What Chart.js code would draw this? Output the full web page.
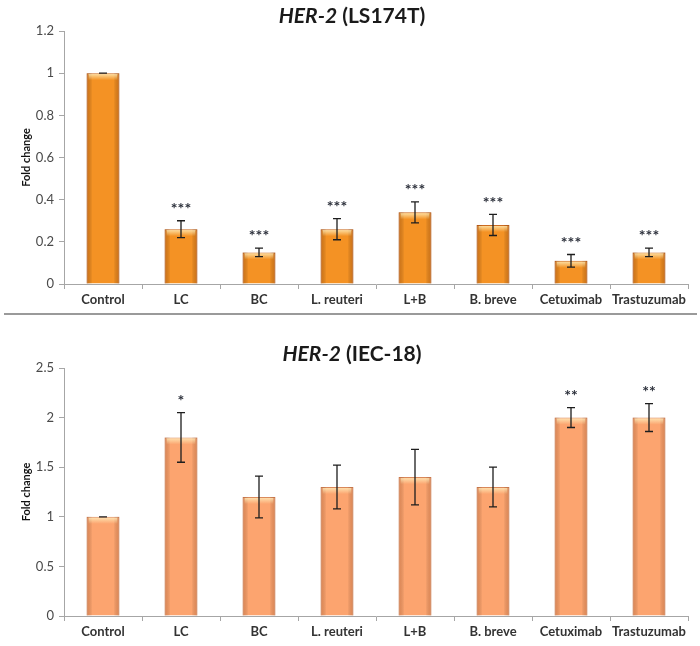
<!DOCTYPE html>
<html>
<head>
<meta charset="utf-8">
<script src="https://cdn.jsdelivr.net/npm/chart.js@4.4.1/dist/chart.umd.min.js"></script>
<style>
  body { margin: 0; background: #fff; }
  .box { position: absolute; left: 0; width: 700px; }
  #top { top: 0; height: 314px; }
  #sep { position: absolute; left: 4px; width: 693px; top: 313px; height: 2px; background: #9a9a9a; }
  #bottom { top: 316px; height: 330px; }
</style>
</head>
<body>
<div class="box" id="top"><canvas id="chartLS"></canvas></div>
<div id="sep"></div>
<div class="box" id="bottom"><canvas id="chartIEC"></canvas></div>
<script>
// categories shared by both panels
var categories = ['Control', 'LC', 'BC', 'L. reuteri', 'L+B', 'B. breve', 'Cetuximab', 'Trastuzumab'];

// HER-2 in LS174T cells
var lsMeans = [1.0, 0.26, 0.15, 0.26, 0.34, 0.28, 0.11, 0.15];
var lsErrors = [0.0, 0.04, 0.02, 0.05, 0.05, 0.05, 0.03, 0.02];
var lsStars = ['', '***', '***', '***', '***', '***', '***', '***'];

// HER-2 in IEC-18 cells
var iecMeans = [1.0, 1.8, 1.2, 1.3, 1.4, 1.3, 2.0, 2.0];
var iecErrors = [0.0, 0.25, 0.21, 0.22, 0.28, 0.2, 0.1, 0.14];
var iecStars = ['', '*', '', '', '', '', '**', '**'];

var FONT = "Lato, 'Liberation Sans', sans-serif";

// draws the error bars, significance stars, bar shading and mixed-style title
var extrasPlugin = {
    id: 'extras',
    afterDatasetsDraw: function (chart, args, opts) {
        var ctx = chart.ctx;
        var meta = chart.getDatasetMeta(0);
        var yScale = chart.scales.y;

        // shading on the bars (darker edges, light band on top)
        meta.data.forEach(function (bar) {
            var left = bar.x - bar.width / 2;
            var right = bar.x + bar.width / 2;
            var g = ctx.createLinearGradient(left, 0, right, 0);
            g.addColorStop(0, opts.edge);
            g.addColorStop(0.18, 'rgba(0,0,0,0)');
            g.addColorStop(0.82, 'rgba(0,0,0,0)');
            g.addColorStop(1, opts.edge);
            ctx.save();
            ctx.fillStyle = g;
            ctx.fillRect(left, bar.y, bar.width, bar.base - bar.y);
            var h = ctx.createLinearGradient(0, bar.y, 0, bar.y + 7);
            h.addColorStop(0, 'rgba(255,240,190,0.9)');
            h.addColorStop(1, 'rgba(255,240,190,0)');
            ctx.fillStyle = h;
            ctx.fillRect(left + 2, bar.y + 1, bar.width - 4, 7);
            ctx.restore();
        });

        // error bars
        ctx.save();
        ctx.strokeStyle = '#1e1e1e';
        ctx.lineWidth = 1.3;
        meta.data.forEach(function (bar, i) {
            var m = opts.means[i], e = opts.errors[i];
            var yTop = yScale.getPixelForValue(m + e);
            var yBot = yScale.getPixelForValue(m - e);
            ctx.beginPath();
            ctx.moveTo(bar.x, yTop); ctx.lineTo(bar.x, yBot);
            ctx.moveTo(bar.x - 4, yTop); ctx.lineTo(bar.x + 4, yTop);
            ctx.moveTo(bar.x - 4, yBot); ctx.lineTo(bar.x + 4, yBot);
            ctx.stroke();

            if (opts.stars[i]) {
                ctx.fillStyle = '#2b2f3a';
                ctx.font = 'bold 16px ' + FONT;
                ctx.textAlign = 'center';
                ctx.textBaseline = 'middle';
                ctx.fillText(opts.stars[i], bar.x, yTop - 12);
            }
        });
        ctx.restore();

        // title: italic gene name + regular cell line
        ctx.save();
        ctx.fillStyle = '#1a1a1a';
        ctx.textBaseline = 'middle';
        var f1 = 'italic bold 21px ' + FONT;
        var f2 = 'bold 21px ' + FONT;
        ctx.font = f1;
        var w1 = ctx.measureText(opts.title[0]).width;
        ctx.font = f2;
        var w2 = ctx.measureText(opts.title[1]).width;
        var x0 = 352 - (w1 + w2) / 2;
        ctx.font = f1;
        ctx.textAlign = 'left';
        ctx.fillText(opts.title[0], x0, opts.titleY);
        ctx.font = f2;
        ctx.fillText(opts.title[1], x0 + w1, opts.titleY);
        ctx.restore();
    }
};

function makeChart(canvasId, means, errors, stars, title, titleY, yMax, step, fill, border, edge, padTop) {
    var ctx = document.getElementById(canvasId);
    return new Chart(ctx, {
        type: 'bar',
        data: {
            labels: categories,
            datasets: [{
                data: means,
                backgroundColor: fill,
                borderColor: border,
                borderWidth: 1,
                borderSkipped: 'bottom',
                barPercentage: 0.42,
                categoryPercentage: 1.0
            }]
        },
        options: {
            responsive: true,
            maintainAspectRatio: false,
            animation: false,
            layout: { padding: { top: padTop, right: 12, left: 0, bottom: 0 } },
            plugins: {
                legend: { display: false },
                tooltip: { enabled: false },
                extras: {
                    means: means, errors: errors, stars: stars,
                    title: title, titleY: titleY, edge: edge
                }
            },
            scales: {
                x: {
                    grid: { display: true, drawOnChartArea: false, drawTicks: true, tickLength: 5, color: '#a6a6a6' },
                    border: { display: true, color: '#a6a6a6', width: 1 },
                    ticks: { color: '#333', font: { family: FONT, size: 13, weight: 'bold' }, padding: 3, maxRotation: 0, autoSkip: false },
                    afterFit: function (s) { s.height = 30; }
                },
                y: {
                    min: 0,
                    max: yMax,
                    ticks: {
                        stepSize: step, color: '#4a4a4a', font: { family: FONT, size: 13 }, padding: 5,
                        callback: function (v) { return String(+v.toFixed(2)); }
                    },
                    grid: { display: true, drawOnChartArea: false, drawTicks: true, tickLength: 5, color: '#a6a6a6' },
                    border: { display: true, color: '#a6a6a6', width: 1 },
                    title: {
                        display: true,
                        text: 'Fold change',
                        color: '#111',
                        font: { family: FONT, size: 11, weight: 'bold' },
                        padding: { top: 20, bottom: 0 }
                    },
                    afterFit: function (s) { s.width = 64; }
                }
            }
        },
        plugins: [extrasPlugin]
    });
}

makeChart('chartLS', lsMeans, lsErrors, lsStars, ['HER-2', ' (LS174T)'], 16,
    1.2, 0.2, '#f49224', '#c9671c', 'rgba(150,60,0,0.35)', 31);
makeChart('chartIEC', iecMeans, iecErrors, iecStars, ['HER-2', ' (IEC-18)'], 38,
    2.5, 0.5, '#fca46f', '#d9885a', 'rgba(170,70,20,0.3)', 52);
</script>
</body>
</html>
